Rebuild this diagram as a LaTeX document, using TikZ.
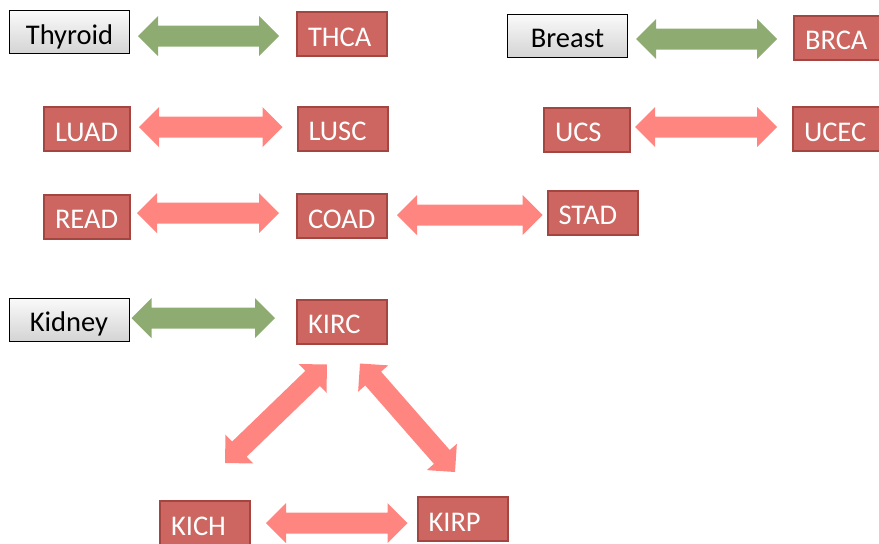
\documentclass[tikz,border=0pt]{standalone}
\usepackage{fontspec}
\setmainfont{Carlito}
\usetikzlibrary{calc}
\definecolor{redfill}{RGB}{205,102,96}
\definecolor{redline}{RGB}{163,70,66}
\definecolor{salmon}{RGB}{255,134,128}
\definecolor{leafgreen}{RGB}{142,172,114}
\definecolor{graytop}{RGB}{250,250,250}
\definecolor{graybot}{RGB}{212,212,212}
\tikzset{
  lbl/.style={font=\fontsize{28.5}{33}\selectfont, text height=24pt, text depth=0pt},
  redbox/.style={lbl, draw=redline, line width=2pt, fill=redfill, text=white,
    minimum height=44pt, inner xsep=11pt, inner ysep=0pt, text width=68pt, align=left},
  redboxs/.style={redbox, text width=64pt},
  graybox/.style={lbl, draw=black, line width=1pt, top color=graytop, bottom color=graybot,
    text=black, minimum width=120pt, minimum height=43pt, inner ysep=0pt, align=center},
  fatred/.style={fill=salmon},
  fatgreen/.style={fill=leafgreen}
}
% fat double-headed arrow between two points (tips at the points)
\newcommand\fatarrow[3]{%
  \coordinate (fa) at (#2);
  \coordinate (fb) at (#3);
  \coordinate (ha) at ($(fa)!20pt!(fb)$);
  \coordinate (hb) at ($(fb)!20pt!(fa)$);
  \path[#1] (fa) -- ($(ha)!20pt!90:(fb)$) -- ($(ha)!10.5pt!90:(fb)$)
    -- ($(hb)!10.5pt!-90:(fa)$) -- ($(hb)!20pt!-90:(fa)$) -- (fb)
    -- ($(hb)!20pt!90:(fa)$) -- ($(hb)!10.5pt!90:(fa)$)
    -- ($(ha)!10.5pt!-90:(fb)$) -- ($(ha)!20pt!-90:(fb)$) -- cycle;
}
\begin{document}
\begin{tikzpicture}[x=1pt,y=-1pt]
\useasboundingbox (0,0) rectangle (879,544);
% nodes
\node[graybox] (thy) at (69.5,32) {Thyroid};
\node[redbox] (thca) at (342,34) {THCA};
\node[graybox] (breast) at (567.5,35.5) {Breast};
\node[redbox] (brca) at (839,37.5) {BRCA};
\node[redboxs] (luad) at (87,129) {LUAD};
\node[redbox] (lusc) at (342.5,128.5) {LUSC};
\node[redboxs] (ucs) at (587,129.5) {UCS};
\node[redbox] (ucec) at (838,129) {UCEC};
\node[redboxs] (read) at (87,216.5) {READ};
\node[redbox] (coad) at (342,216) {COAD};
\node[redbox] (stad) at (592.5,212.5) {STAD};
\node[graybox] (kidney) at (69,319.5) {Kidney};
\node[redbox] (kirc) at (342,321.5) {KIRC};
\node[redbox] (kich) at (205,523) {KICH};
\node[redbox] (kirp) at (462.5,519) {KIRP};
% connectors
\fatarrow{fatgreen}{[xshift=8pt,yshift=-4pt]thy.east}{[xshift=-17pt,yshift=-2pt]thca.west}
\fatarrow{fatgreen}{[xshift=8pt,yshift=-3.5pt]breast.east}{[xshift=-16pt,yshift=-1.5pt]brca.west}
\fatarrow{fatred}{[xshift=8pt,yshift=2pt]luad.east}{[xshift=-14pt,yshift=1.5pt]lusc.west}
\fatarrow{fatred}{[xshift=4pt,yshift=2.5pt]ucs.east}{[xshift=-15pt,yshift=2pt]ucec.west}
\fatarrow{fatred}{[xshift=6pt,yshift=3.5pt]read.east}{[xshift=-17pt,yshift=3pt]coad.west}
\fatarrow{fatred}{[xshift=9pt,yshift=1pt]coad.east}{[xshift=-4pt,yshift=-2.5pt]stad.west}
\fatarrow{fatgreen}{[xshift=2pt,yshift=1.5pt]kidney.east}{[xshift=-21pt,yshift=3.5pt]kirc.west}
\fatarrow{fatred}{[xshift=-15pt,yshift=-20pt]kirc.south}{[xshift=20pt,yshift=37pt]kich.north}
\fatarrow{fatred}{[xshift=18pt,yshift=-19pt]kirc.south}{[xshift=-7.5pt,yshift=24pt]kirp.north}
\fatarrow{fatred}{[xshift=15pt]kich.east}{[xshift=-9pt,yshift=-4pt]kirp.west}
\end{tikzpicture}
\end{document}
